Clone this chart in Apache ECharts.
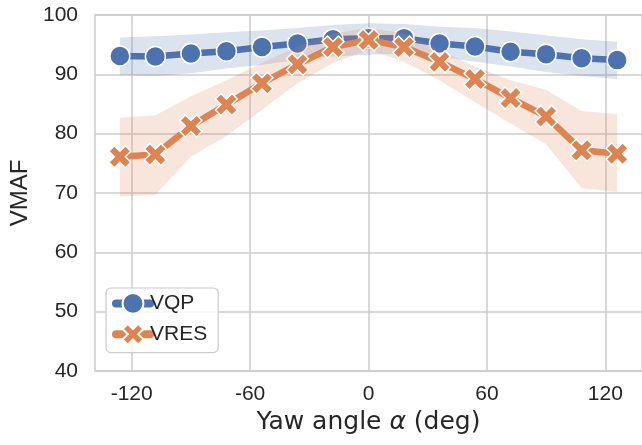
<!DOCTYPE html>
<html>
<head>
<meta charset="utf-8">
<script src="https://cdn.jsdelivr.net/npm/echarts@6/dist/echarts.min.js"></script>
<style>html,body{margin:0;padding:0;background:#fff;}#c{width:642px;height:445px;}</style>
</head>
<body>
<div id="c"></div>
<script>
const angles = [-126,-108,-90,-72,-54,-36,-18,0,18,36,54,72,90,108,126];
const vqp    = [93.1,93.0,93.5,93.9,94.6,95.2,95.9,96.1,96.1,95.2,94.7,93.8,93.4,92.7,92.4];
const vqpLo  = [89.9,89.7,90.2,91.0,91.6,92.4,93.0,93.3,93.5,93.0,92.1,91.3,90.4,89.7,89.2];
const vqpHi  = [96.2,96.4,96.7,97.1,97.4,97.8,98.3,98.6,98.5,98.0,97.8,97.2,96.6,95.9,95.5];
const vres   = [76.1,76.5,81.3,84.9,88.5,91.7,94.6,95.8,94.6,92.1,89.2,86.0,82.9,77.2,76.6];
const vresLo = [69.4,69.7,76.1,79.6,84.0,88.5,91.9,94.1,92.1,89.0,85.3,81.7,78.2,70.8,70.2];
const vresHi = [82.7,83.1,86.3,89.0,91.9,94.7,96.9,97.8,96.9,94.1,91.3,89.0,87.4,83.8,83.3];
const xTicks = [-120,-60,0,60,120];
const yTicks = [40,50,60,70,80,90,100];

const BLUE = '#4c72b0', ORANGE = '#dd8452';
const XPATH = 'path://M25,0 L50,25 L75,0 L100,25 L75,50 L100,75 L75,100 L50,75 L25,100 L0,75 L25,50 L0,25 Z';
const pairs = (ys) => angles.map((a,i) => [a, ys[i]]);

function bandSeries(name, lo, hi, color, z) {
  return {
    name: name, type: 'custom', silent: true, z: z,
    data: angles.map((a,i) => [a, lo[i], hi[i]]),
    encode: {x: 0, y: [1, 2]},
    renderItem: function (params, api) {
      if (params.dataIndex !== 0) return null;
      const top = angles.map((a,i) => api.coord([a, hi[i]]));
      const bot = angles.map((a,i) => api.coord([a, lo[i]])).reverse();
      return {
        type: 'polygon',
        shape: {points: top.concat(bot)},
        style: {fill: color, opacity: 0.2}
      };
    }
  };
}

const chart = echarts.init(document.getElementById('c'), null, {renderer:'canvas'});
const TXT = '#262626';
chart.setOption({
  animation: false,
  backgroundColor: '#fff',
  grid: {left: 95, top: 15, width: 550, height: 356, show: true, borderColor: '#cccccc', borderWidth: 1.5, backgroundColor: 'transparent'},
  xAxis: {
    type: 'value', min: -138.6, max: 138.6,
    axisLine: {show: false},
    axisTick: {show: false, customValues: xTicks},
    splitLine: {show: true, lineStyle: {color: '#cccccc', width: 1.5}},
    axisLabel: {show: true, customValues: xTicks, color: TXT, fontFamily: 'Liberation Sans', fontSize: 21, margin: 13},
    name: '{n|Yaw angle }{a|α}{n| (deg)}', nameLocation: 'middle', nameGap: 39,
    nameTextStyle: {rich: {n: {fontFamily: 'DejaVu Sans', fontSize: 25, color: TXT}, a: {fontFamily: 'DejaVu Sans', fontStyle: 'italic', fontSize: 25, color: TXT}}}
  },
  yAxis: {
    type: 'value', min: 40, max: 100, interval: 10,
    axisLine: {show: false}, axisTick: {show: false},
    splitLine: {show: true, lineStyle: {color: '#cccccc', width: 1.5}},
    axisLabel: {color: TXT, fontFamily: 'Liberation Sans', fontSize: 21, margin: 17},
    name: 'VMAF', nameLocation: 'middle', nameGap: 62, nameRotate: 90,
    nameTextStyle: {fontFamily: 'Liberation Sans', fontSize: 24, color: TXT}
  },
  legend: {
    left: 106, top: 288, orient: 'vertical',
    data: ['VQP','VRES'],
    backgroundColor: 'rgba(255,255,255,0.8)', borderColor: '#cccccc', borderWidth: 1.2, borderRadius: 5,
    padding: [4, 11, 7, 6], itemGap: 8, itemWidth: 34, itemHeight: 26,
    lineStyle: {width: 8, cap: 'round'},
    textStyle: {fontFamily: 'Liberation Sans', fontSize: 21, color: TXT, padding: [0,0,0,-5]}
  },
  series: [
    bandSeries('vqpBand', vqpLo, vqpHi, BLUE, 1),
    {name: 'VQP', type: 'line', data: pairs(vqp), color: BLUE, symbol: 'circle', symbolSize: 20,
      lineStyle: {width: 6.5, color: BLUE}, itemStyle: {color: BLUE, borderColor: '#fff', borderWidth: 1.5}, z: 2},
    bandSeries('vresBand', vresLo, vresHi, ORANGE, 3),
    {name: 'VRES', type: 'line', data: pairs(vres), color: ORANGE, symbol: XPATH, symbolSize: 22,
      lineStyle: {width: 6.5, color: ORANGE}, itemStyle: {color: ORANGE, borderColor: '#fff', borderWidth: 1.5}, z: 4}
  ]
});
</script>
</body>
</html>
